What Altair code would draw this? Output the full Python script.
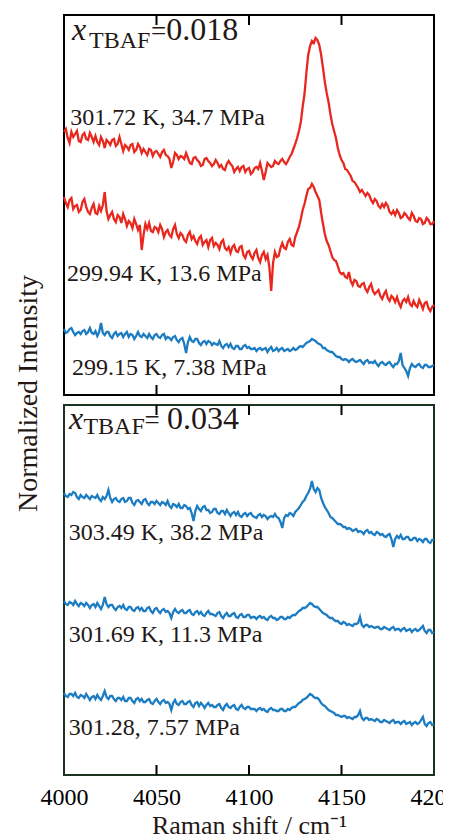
import altair as alt
import pandas as pd

# Raman shift sampling (cm-1), one reading per wavenumber
shift = list(range(4000, 4201))

# x_TBAF = 0.018 panel (intensity, arbitrary units)
I_301_72 = [263, 266, 257, 252, 263, 258, 261, 264, 254, 253, 260, 262, 256, 255, 262, 258, 253, 259, 253, 250,
            258, 254, 247, 255, 253, 250, 255, 256, 249, 251, 258, 251, 244, 250, 248, 245, 250, 251, 243, 245,
            251, 248, 242, 246, 243, 240, 246, 245, 239, 243, 244, 241, 238, 243, 245, 240, 239, 236, 227, 233,
            242, 240, 236, 239, 238, 236, 242, 237, 232, 231, 237, 238, 235, 233, 229, 230, 236, 237, 234, 232,
            229, 231, 235, 232, 228, 230, 226, 225, 231, 234, 231, 229, 223, 226, 228, 224, 228, 229, 223, 226,
            227, 221, 223, 227, 228, 226, 232, 224, 215, 223, 232, 230, 228, 229, 234, 232, 231, 234, 236, 233,
            231, 234, 238, 241, 246, 251, 257, 264, 273, 288, 301, 322, 340, 349, 354, 352, 357, 355, 350, 340,
            327, 313, 302, 293, 281, 271, 264, 257, 247, 240, 235, 232, 226, 225, 222, 219, 214, 213, 210, 207,
            203, 205, 202, 199, 202, 200, 195, 192, 196, 194, 189, 187, 191, 188, 192, 189, 183, 181, 184, 180,
            185, 182, 177, 178, 182, 180, 177, 175, 182, 179, 174, 173, 177, 176, 171, 172, 177, 175, 171, 171,
            174]
I_299_94 = [198, 192, 188, 195, 197, 186, 189, 190, 183, 185, 193, 196, 188, 183, 181, 187, 191, 182, 181, 189,
            184, 190, 203, 184, 176, 180, 183, 176, 173, 180, 178, 172, 181, 176, 169, 174, 172, 167, 176, 171,
            165, 170, 145, 160, 171, 166, 172, 164, 163, 168, 167, 163, 170, 166, 158, 163, 165, 160, 158, 166,
            170, 161, 157, 162, 160, 155, 153, 160, 163, 156, 159, 154, 151, 157, 159, 150, 153, 155, 148, 155,
            157, 149, 152, 150, 146, 153, 155, 147, 145, 148, 142, 148, 150, 144, 143, 148, 149, 140, 137, 143,
            144, 139, 136, 142, 145, 137, 133, 140, 143, 136, 140, 128, 104, 132, 143, 138, 139, 147, 152, 147,
            146, 153, 156, 150, 149, 158, 163, 168, 176, 185, 191, 199, 206, 207, 211, 208, 203, 199, 195, 182,
            171, 161, 154, 150, 144, 138, 135, 134, 129, 123, 121, 122, 118, 117, 123, 114, 110, 115, 114, 109,
            108, 111, 112, 106, 103, 108, 111, 104, 101, 103, 105, 99, 96, 101, 104, 97, 94, 99, 97, 93,
            98, 92, 88, 94, 96, 93, 98, 91, 89, 94, 90, 88, 95, 91, 86, 92, 93, 87, 84, 88,
            90]
I_299_15 = [66, 62, 63, 66, 67, 63, 60, 62, 63, 61, 64, 65, 61, 63, 67, 62, 61, 64, 59, 63,
            72, 62, 60, 63, 63, 59, 57, 61, 63, 59, 61, 62, 58, 61, 63, 58, 61, 60, 56, 59,
            63, 59, 58, 61, 59, 57, 61, 58, 56, 60, 61, 58, 57, 60, 61, 56, 58, 57, 55, 58,
            59, 55, 53, 56, 57, 51, 42, 53, 58, 54, 53, 56, 56, 52, 50, 53, 54, 51, 54, 53,
            50, 52, 51, 50, 54, 49, 47, 50, 51, 48, 51, 47, 46, 49, 49, 46, 46, 49, 50, 47,
            48, 46, 46, 47, 44, 46, 47, 45, 46, 47, 43, 46, 48, 44, 45, 47, 44, 46, 47, 44,
            45, 46, 44, 45, 47, 45, 46, 48, 49, 48, 50, 52, 53, 54, 56, 55, 54, 52, 51, 50,
            47, 47, 45, 44, 43, 43, 41, 39, 38, 38, 36, 35, 36, 35, 33, 35, 36, 34, 33, 34,
            35, 33, 31, 34, 35, 32, 33, 32, 34, 31, 29, 32, 33, 31, 30, 32, 33, 30, 28, 31,
            31, 34, 42, 30, 27, 24, 19, 27, 31, 29, 28, 30, 31, 28, 27, 30, 30, 28, 28, 29,
            30]

# x_TBAF = 0.034 panel
I_303_49 = [282, 279, 278, 281, 280, 283, 282, 278, 276, 280, 278, 277, 280, 278, 276, 279, 278, 277, 280, 276,
            274, 278, 276, 279, 285, 277, 273, 276, 277, 274, 273, 276, 277, 273, 274, 277, 277, 272, 270, 274,
            275, 273, 271, 275, 276, 272, 270, 273, 273, 271, 274, 272, 270, 273, 272, 270, 274, 269, 267, 271,
            270, 268, 271, 267, 267, 270, 269, 266, 267, 262, 254, 264, 269, 266, 264, 268, 269, 265, 265, 262,
            263, 266, 266, 262, 261, 264, 264, 261, 265, 262, 259, 262, 263, 260, 263, 259, 258, 261, 262, 259,
            261, 262, 259, 258, 257, 260, 261, 258, 260, 259, 256, 258, 259, 258, 261, 258, 257, 253, 247, 257,
            260, 259, 262, 261, 259, 263, 265, 267, 270, 273, 275, 279, 282, 286, 294, 286, 283, 287, 285, 277,
            272, 268, 265, 262, 258, 257, 255, 253, 251, 251, 250, 248, 248, 246, 247, 246, 244, 245, 246, 243,
            244, 243, 241, 244, 245, 242, 243, 241, 240, 243, 242, 240, 241, 239, 238, 240, 241, 236, 228, 236,
            239, 237, 240, 236, 236, 238, 238, 235, 235, 237, 237, 234, 236, 235, 233, 236, 236, 233, 232, 235,
            235]
I_301_69 = [174, 171, 170, 173, 172, 170, 174, 171, 169, 172, 171, 169, 172, 170, 167, 170, 171, 168, 172, 169,
            166, 170, 178, 171, 168, 170, 170, 167, 165, 168, 169, 167, 170, 166, 165, 168, 168, 165, 164, 167,
            168, 165, 167, 164, 164, 167, 168, 164, 162, 166, 167, 164, 162, 165, 166, 163, 164, 162, 157, 163,
            166, 163, 162, 164, 165, 162, 162, 164, 165, 161, 160, 163, 164, 161, 163, 160, 159, 162, 164, 161,
            161, 160, 159, 162, 163, 159, 157, 160, 162, 159, 159, 161, 162, 158, 157, 160, 161, 158, 158, 160,
            160, 157, 158, 158, 156, 158, 159, 157, 158, 156, 155, 158, 159, 157, 157, 155, 156, 158, 158, 156,
            156, 158, 157, 159, 160, 160, 162, 164, 165, 167, 167, 168, 170, 172, 171, 169, 168, 168, 166, 164,
            162, 161, 160, 158, 157, 157, 155, 154, 154, 152, 151, 153, 152, 150, 151, 150, 149, 151, 151, 152,
            158, 150, 148, 150, 150, 148, 149, 148, 147, 148, 148, 146, 146, 148, 147, 146, 145, 147, 148, 145,
            146, 146, 144, 146, 147, 144, 145, 146, 143, 145, 146, 144, 145, 147, 149, 144, 142, 145, 145, 142,
            143]
I_301_28 = [82, 79, 78, 81, 81, 79, 82, 78, 77, 80, 79, 77, 81, 78, 75, 78, 79, 76, 80, 77,
            75, 79, 84, 78, 76, 79, 79, 76, 74, 77, 77, 75, 78, 74, 74, 77, 77, 74, 72, 76,
            77, 74, 76, 73, 73, 75, 76, 72, 71, 74, 76, 73, 71, 74, 75, 72, 73, 71, 65, 72,
            75, 71, 70, 73, 74, 71, 71, 73, 74, 70, 68, 72, 73, 69, 72, 70, 67, 70, 72, 69,
            70, 68, 68, 70, 71, 67, 65, 69, 71, 68, 67, 69, 70, 66, 65, 68, 70, 67, 66, 68,
            68, 66, 66, 66, 64, 66, 67, 65, 66, 64, 63, 66, 67, 65, 65, 64, 64, 66, 66, 64,
            64, 66, 65, 67, 68, 68, 70, 72, 73, 75, 76, 77, 79, 81, 80, 78, 77, 77, 75, 72,
            70, 69, 67, 65, 64, 63, 62, 60, 60, 59, 58, 59, 59, 57, 58, 57, 56, 58, 58, 60,
            64, 57, 55, 57, 57, 55, 56, 55, 54, 56, 55, 53, 53, 55, 54, 53, 52, 54, 55, 52,
            53, 53, 51, 53, 54, 51, 52, 53, 50, 52, 53, 51, 52, 55, 58, 51, 49, 52, 53, 50,
            51]

top_names = ["301.72 K, 34.7 MPa", "299.94 K, 13.6 MPa", "299.15 K, 7.38 MPa"]
top_values = [I_301_72, I_299_94, I_299_15]
bot_names = ["303.49 K, 38.2 MPa", "301.69 K, 11.3 MPa", "301.28, 7.57 MPa"]
bot_values = [I_303_49, I_301_69, I_301_28]

# label anchor positions (data units)
top_label_x = [4003.4, 4001.6, 4004.3]
top_label_y = [270, 114, 20]
bot_label_x = [4002.5, 4002.5, 4002.5]
bot_label_y = [235, 133, 40]

tick_vals = [4050, 4100, 4150]
axis_vals = [4000, 4050, 4100, 4150, 4200]

RED = "#e8281e"
BLUE = "#1b7cc2"
TXT = "#231815"
SERIF = "Liberation Serif"

W = 370
H_TOP = 380
H_BOT = 370


def long_df(names, values):
    rows = []
    for n, v in zip(names, values):
        for s, y in zip(shift, v):
            rows.append({"shift": s, "intensity": y, "series": n})
    return pd.DataFrame(rows)


df_top = long_df(top_names, top_values)
df_bot = long_df(bot_names, bot_values)

xscale = alt.Scale(domain=[4000, 4200], nice=False, zero=False)


def txt(df, size, style="normal"):
    return alt.Chart(df).mark_text(
        align="left", baseline="alphabetic", font=SERIF, fontSize=size, fontStyle=style, color=TXT
    )


def panel(df, names, colors, ymax, height, lab_x, lab_y, xpos, xy, subpos, suby, eqpos, valpos, xt_val,
          xaxis, yaxis, frame):
    ysc = alt.Scale(domain=[0, ymax], nice=False, zero=True)
    enc = dict(x=alt.X("x:Q", scale=xscale), y=alt.Y("y:Q", scale=ysc), text="t:N")
    lines = alt.Chart(df).mark_line(strokeWidth=2.3).encode(
        x=alt.X("shift:Q", scale=xscale, axis=xaxis),
        y=alt.Y("intensity:Q", scale=ysc, axis=yaxis),
        color=alt.Color("series:N", scale=alt.Scale(domain=names, range=colors), legend=None),
        detail="series:N",
    )
    labels = txt(pd.DataFrame({"x": lab_x, "y": lab_y, "t": names}), 24).encode(**enc)
    xt = txt(pd.DataFrame({"x": [xpos], "y": [xy], "t": ["x"]}), 32, "italic").encode(**enc)
    sub = txt(pd.DataFrame({"x": [subpos], "y": [suby], "t": ["TBAF"]}), 24).encode(**enc)
    eq = txt(pd.DataFrame({"x": [eqpos], "y": [xy], "t": ["="]}), 27).encode(**enc)
    val = txt(pd.DataFrame({"x": [valpos], "y": [xy], "t": [xt_val]}), 32).encode(**enc)

    tdf = pd.DataFrame({"shift": tick_vals})
    tick_top = alt.Chart(tdf).mark_rule(color="black", strokeWidth=2).encode(
        x=alt.X("shift:Q", scale=xscale), y=alt.value(0), y2=alt.value(10))
    tick_bot = alt.Chart(tdf).mark_rule(color="black", strokeWidth=2).encode(
        x=alt.X("shift:Q", scale=xscale), y=alt.value(height - 10), y2=alt.value(height))

    return alt.layer(lines, labels, xt, sub, eq, val, tick_top, tick_bot).properties(
        width=W, height=height,
        view=alt.ViewBackground(stroke=frame, strokeWidth=2, fill="white"),
    )


top_yaxis = alt.Axis(
    labels=False, ticks=False, domain=False, grid=False,
    title="Normalized Intensity", titleFont=SERIF, titleFontSize=28, titleFontWeight="normal",
    titleColor=TXT, titleAngle=270, titleX=-28, titleY=378, titleBaseline="alphabetic", titleAlign="center",
)
bot_xaxis = alt.Axis(
    values=axis_vals, format="d", labelFont=SERIF, labelFontSize=24, labelColor="black",
    ticks=False, domain=False, grid=False, labelPadding=10, labelFlush=False,
    title="Raman shift / cm\u207b\u00b9", titleFont=SERIF, titleFontSize=26, titleFontWeight="normal",
    titleColor=TXT, titleY=58, titleBaseline="alphabetic",
)

top = panel(df_top, top_names, [RED, RED, BLUE], H_TOP, H_TOP, top_label_x, top_label_y,
            4004.3, 355, 4013.5, 347, 4047.0, 4055.3, "0.018", None, top_yaxis, "black")
bot = panel(df_bot, bot_names, [BLUE, BLUE, BLUE], H_BOT, H_BOT, bot_label_x, bot_label_y,
            4002.7, 346, 4010.5, 341, 4043.5, 4055.7, "0.034", bot_xaxis, None, "#1b3320")

chart = alt.vconcat(top, bot, spacing=10, bounds="flush").resolve_scale(
    color="independent", y="independent"
).properties(
    padding={"left": 5, "top": 4, "right": -16, "bottom": 2}
).configure_view(strokeWidth=2)

chart.save("out.html", embed_options={"renderer": "svg", "actions": False})
